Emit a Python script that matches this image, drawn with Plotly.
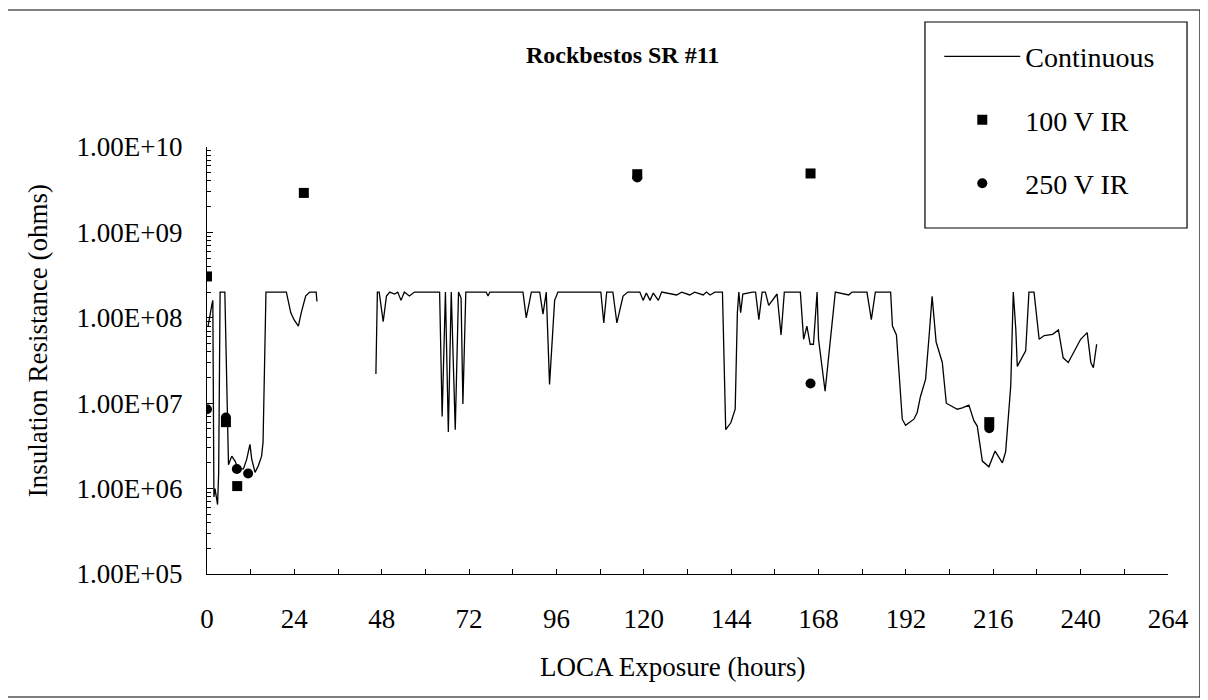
import plotly.graph_objects as go

# ---- data ----
cont_hours = [0.3, 0.8, 1.3, 1.6, 1.9, 2.2, 2.5, 2.9, 3.2, 3.6, 4.9, 5.3, 5.9, 6.8, 7.7, 8.6,
              10.0, 10.9, 11.8, 12.3, 13.2, 14.1, 15.0, 15.4, 16.2, 21.8, 23.0, 23.9, 25.1,
              25.9, 27.1, 28.2, 30.0, 30.2,
              None,
              46.4, 46.8, 47.3, 48.4, 49.3, 50.2, 51.5, 52.4, 53.3, 54.2, 55.6, 57.0, 63.9,
              64.6, 65.5, 66.3, 67.1, 68.2, 69.1, 69.8, 70.3, 71.1, 76.7, 77.2, 77.7, 86.8,
              87.7, 89.1, 91.4, 92.3, 93.2, 94.1, 95.5, 96.4, 108.2, 109.0, 109.8, 111.5,
              112.6, 114.3, 115.6, 118.9, 119.8, 120.7, 121.7, 122.6, 124.0, 124.9, 129.0,
              130.4, 132.6, 134.0, 136.3, 137.2, 138.2, 139.5, 141.6, 142.5, 143.9, 145.1,
              145.7, 146.1, 146.6, 147.2, 149.8, 150.7, 151.6, 152.5, 153.4, 154.3, 156.6,
              157.7, 158.6, 163.0, 163.9, 164.8, 165.7, 166.6, 167.6, 168.0, 169.8, 172.6,
              176.3, 177.2, 181.3, 182.5, 183.6, 187.8, 188.3, 189.4, 191.0, 191.9, 194.2,
              195.1, 196.0, 197.4, 198.3, 199.2, 200.3, 202.0, 203.1, 204.3, 206.1, 207.5,
              209.3, 210.7, 211.6, 213.0, 214.8, 216.5, 218.5, 219.4, 220.8, 221.5, 222.2,
              222.6, 224.9, 225.8, 227.2, 228.6, 230.0, 232.3, 233.9, 235.2, 236.6, 240.0,
              241.8, 242.8, 243.5, 244.4]
cont_ohms = [8e7, 1.1e8, 1.4e8, 1.6e8, 8e5, 1.0e6, 8.5e5, 6.5e5, 1.5e6, 2e8, 2e8, 2e7, 1.9e6,
             2.4e6, 2.1e6, 1.7e6, 1.7e6, 2.2e6, 3.3e6, 2.2e6, 1.55e6, 1.85e6, 2.4e6, 3.5e6,
             2e8, 2e8, 1.15e8, 9.5e7, 8e7, 1.15e8, 1.8e8, 2e8, 2e8, 1.55e8,
             None,
             2.2e7, 2e8, 2e8, 9e7, 1.8e8, 2e8, 1.9e8, 2e8, 1.6e8, 2e8, 1.8e8, 2e8, 2e8,
             7e6, 2e8, 4.6e6, 2e8, 4.9e6, 2e8, 1.7e8, 9.8e6, 2e8, 2e8, 1.8e8, 2e8, 2e8,
             1.0e8, 2e8, 2e8, 1.1e8, 2e8, 1.66e7, 1.6e8, 2e8, 2e8, 8.7e7, 2e8, 2e8,
             8.7e7, 1.8e8, 2e8, 2e8, 1.6e8, 1.95e8, 1.6e8, 1.95e8, 1.6e8, 2e8, 1.85e8,
             2e8, 1.85e8, 2e8, 1.85e8, 2e8, 1.85e8, 2e8, 2e8, 4.9e6, 5.9e6, 8.5e6,
             1.15e8, 2e8, 1.15e8, 1.9e8, 2e8, 2e8, 9.5e7, 2e8, 2e8, 1.4e8, 1.9e8,
             6.3e7, 2e8, 2e8, 5.6e7, 8e7, 4.9e7, 4.9e7, 2e8, 5.6e7, 1.38e7, 2e8,
             1.85e8, 2e8, 2e8, 9.5e7, 2e8, 2e8, 8e7, 6.3e7, 6.5e6, 5.5e6, 6.5e6,
             7.8e6, 1.2e7, 1.9e7, 5.6e7, 1.78e8, 5.2e7, 3e7, 1e7, 9.3e6, 8.5e6, 8.8e6,
             9.5e6, 6.2e6, 5.4e6, 2.1e6, 1.8e6, 2.75e6, 2e6, 2.7e6, 1.6e7, 2e8, 7.2e7,
             2.7e7, 4.1e7, 2e8, 2e8, 5.6e7, 6.2e7, 6.4e7, 7.2e7, 3.4e7, 3e7, 5.6e7,
             6.7e7, 3e7, 2.6e7, 4.9e7]

ir100_hours = [0.0, 5.2, 8.3, 26.6, 118.2, 165.8, 214.9]
ir100_ohms = [3.05e8, 6.0e6, 1.07e6, 2.9e9, 4.8e9, 4.9e9, 6.0e6]

ir250_hours = [0.0, 5.2, 8.2, 11.3, 118.2, 165.8, 214.9]
ir250_ohms = [8.5e6, 6.8e6, 1.7e6, 1.5e6, 4.4e9, 1.7e7, 5.1e6]

y_decades = [1e5, 1e6, 1e7, 1e8, 1e9, 1e10]
y_ticktext = ["1.00E+05", "1.00E+06", "1.00E+07", "1.00E+08", "1.00E+09", "1.00E+10"]
y_minor = [k * d for d in y_decades[:-1] for k in range(2, 10)]
x_ticks = list(range(0, 265, 24))

FONT = "Liberation Serif, Times New Roman, serif"

fig = go.Figure()
fig.add_trace(go.Scatter(x=cont_hours, y=cont_ohms, mode="lines", name="Continuous",
                         line=dict(color="black", width=1.3), connectgaps=False,
                         legendgroup="a"))
fig.add_trace(go.Scatter(x=ir100_hours, y=ir100_ohms, mode="markers", name="100 V IR",
                         marker=dict(symbol="square", size=10, color="black"),
                         legendgroup="b"))
fig.add_trace(go.Scatter(x=ir250_hours, y=ir250_ohms, mode="markers", name="250 V IR",
                         marker=dict(symbol="circle", size=10, color="black"),
                         legendgroup="c"))

fig.update_layout(
    width=1200, height=692,
    margin=dict(l=199, r=40, t=139, b=126),
    paper_bgcolor="white", plot_bgcolor="white",
    font=dict(family=FONT, size=27, color="black"),
    showlegend=True,
    legend=dict(x=0.762, y=1.27, xanchor="left", yanchor="top",
                bgcolor="rgba(0,0,0,0)", borderwidth=0,
                font=dict(family=FONT, size=28, color="black"),
                itemwidth=76, tracegroupgap=24, traceorder="grouped"),
    xaxis=dict(range=[0, 264], tickvals=x_ticks, showgrid=False, zeroline=False,
               showline=True, linecolor="black", linewidth=1,
               ticks="inside", ticklen=5, tickcolor="black",
               minor=dict(dtick=12, ticks="inside", ticklen=5, tickcolor="black"),
               ticklabelstandoff=21,
               tickfont=dict(family=FONT, size=27)),
    yaxis=dict(type="log", range=[5, 10], tickvals=y_decades, ticktext=y_ticktext,
               showgrid=False, zeroline=False, showline=True, linecolor="black", linewidth=1,
               ticks="inside", ticklen=6, tickcolor="black",
               minor=dict(tickvals=y_minor, ticks="inside", ticklen=4, tickcolor="black"),
               ticklabelstandoff=18,
               tickfont=dict(family=FONT, size=27)),
    shapes=[
        dict(type="rect", xref="paper", yref="paper", x0=-0.2081, x1=1.0333, y0=-0.288, y1=1.3208,
             line=dict(color="black", width=1.2), fillcolor="rgba(0,0,0,0)", layer="below"),
        dict(type="rect", xref="paper", yref="paper", x0=0.7471, x1=1.0198, y0=0.8103, y1=1.2927,
             line=dict(color="black", width=1.2), fillcolor="white", layer="below"),
    ],
    annotations=[
        dict(text="<b>Rockbestos SR #11</b>", xref="paper", yref="paper", x=0.432, y=1.215,
             xanchor="center", yanchor="middle", showarrow=False,
             font=dict(family=FONT, size=24, color="black")),
        dict(text="Insulation Resistance (ohms)", xref="paper", yref="paper", x=-0.1758, y=0.545,
             xanchor="center", yanchor="middle", textangle=-90, showarrow=False,
             font=dict(family=FONT, size=27, color="black")),
        dict(text="LOCA Exposure (hours)", xref="paper", yref="paper", x=0.484, y=-0.218,
             xanchor="center", yanchor="middle", showarrow=False,
             font=dict(family=FONT, size=27, color="black")),
    ],
)

fig.write_html("out.html")
